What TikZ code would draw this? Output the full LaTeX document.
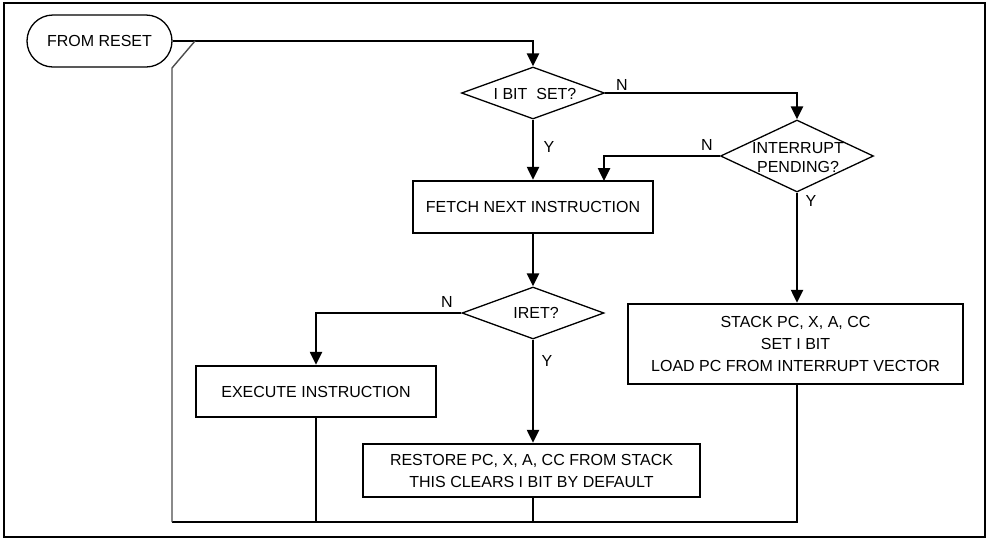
\documentclass[tikz,border=0pt]{standalone}
\usepackage{fontspec}
\setmainfont{Liberation Sans}
\usetikzlibrary{shapes.geometric,arrows.meta}
\begin{document}
\begin{tikzpicture}[x=1pt,y=-1pt,
  font=\fontsize{16}{22}\selectfont,
  conn/.style={line width=2.5pt},
  arr/.style={line width=2.5pt,-{Triangle[length=13pt,width=12pt]}},
  boxnode/.style={draw,line width=2.5pt,rectangle,inner sep=0pt,align=center},
  dianode/.style={draw,line width=1.3pt,diamond,inner sep=0pt},
  txt/.style={inner sep=0pt,align=center},
  lbl/.style={inner sep=0pt}]
\useasboundingbox (0,0) rectangle (988,539);
\draw[line width=2.5pt] (4,3) rectangle (985,537);

% nodes
\node[draw,line width=1.3pt,rectangle,rounded corners=26pt,minimum width=145pt,minimum height=52pt,inner sep=0pt] (reset) at (99.5,41) {FROM RESET};
\node[dianode,minimum width=143pt,minimum height=52pt] (ibit) at (533,93) {};
\node[txt] (ibitt) at (535,94) {I BIT\ \ SET?};
\node[dianode,minimum width=153pt,minimum height=72pt] (ip) at (797,156) {};
\node[txt,font=\fontsize{16}{19}\selectfont] (ipt) at (798,158) {INTERRUPT\\PENDING?};
\node[boxnode,minimum width=240pt,minimum height=52pt] (fetch) at (533,207) {FETCH NEXT INSTRUCTION};
\node[dianode,minimum width=142pt,minimum height=52pt] (iret) at (533,313) {};
\node[txt] (irett) at (536,313) {IRET?};
\node[boxnode,minimum width=240pt,minimum height=51pt] (exec) at (316,391.5) {EXECUTE INSTRUCTION};
\node[boxnode,minimum width=337pt,minimum height=53pt] (restore) at (531.5,470.5) {RESTORE PC, X, A, CC FROM STACK\\THIS CLEARS I BIT BY DEFAULT};
\node[boxnode,minimum width=335pt,minimum height=80pt] (stack) at (795.5,344) {STACK PC, X, A, CC\\SET I BIT\\LOAD PC FROM INTERRUPT VECTOR};

% labels
\node[lbl] (n1) at (622,85) {N};
\node[lbl] (y1) at (549,147) {Y};
\node[lbl] (n2) at (707,145) {N};
\node[lbl] (y2) at (811,201) {Y};
\node[lbl] (n3) at (447,302) {N};
\node[lbl] (y3) at (547,361) {Y};

% coordinates
\coordinate (fin2) at (604,181);
\coordinate (bl) at (172,522);
\coordinate (br) at (797,522);
\coordinate (gk) at (172,68);
\coordinate (gj) at (195,41);

% connectors
\draw[arr] (reset.east) -| (ibit.north);
\draw[arr] (ibit.east) -| (ip.north);
\draw[arr] (ibit.south) -- (fetch.north);
\draw[arr] (ip.west) -| (fin2);
\draw[arr] (ip.south) -- (ip.south |- stack.north);
\draw[arr] (fetch.south) -- (iret.north);
\draw[arr] (iret.west) -| (exec.north);
\draw[arr] (iret.south) -- (iret.south |- restore.north);
\draw[conn] (ip.south |- stack.south) -- (br) -- (bl);
\draw[conn] (exec.south) -- (exec.south |- bl);
\draw[conn] (iret.south |- restore.south) -- (iret.south |- bl);
\draw[line width=1.4pt,black!70] (bl) -- (gk) -- (gj);
\end{tikzpicture}
\end{document}
